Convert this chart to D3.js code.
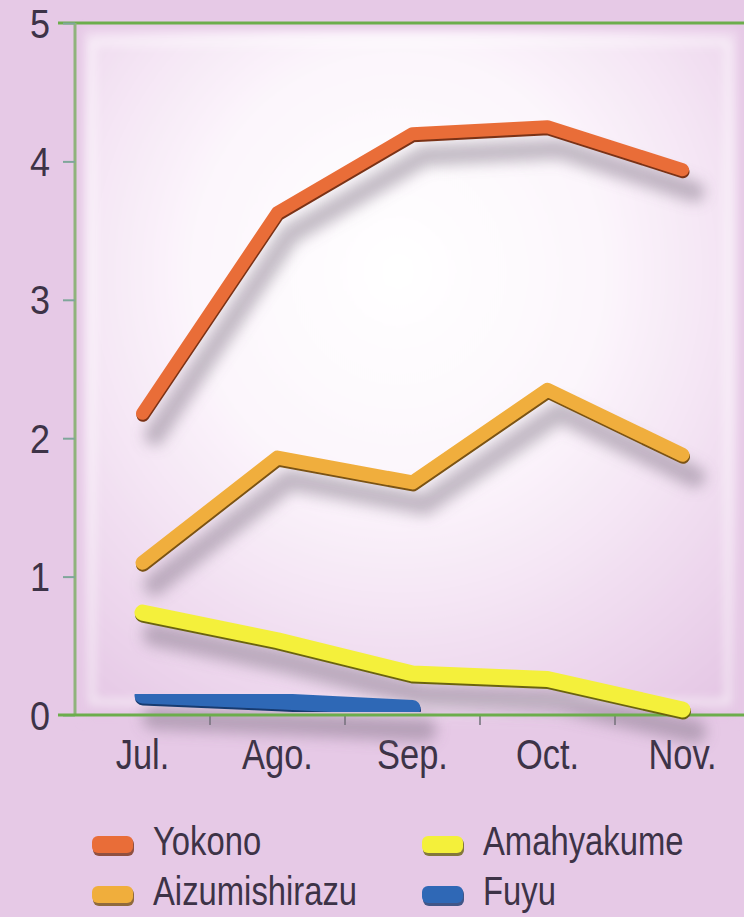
<!DOCTYPE html>
<html>
<head>
<meta charset="utf-8">
<script src="https://cdn.jsdelivr.net/npm/d3@7/dist/d3.min.js"></script>
<style>
  html, body { margin: 0; padding: 0; background: #e6c9e6; }
  svg { display: block; }
  text { font-family: "Liberation Sans", Arial, sans-serif; fill: #3d3347; }
</style>
</head>
<body>
<svg id="chart" width="744" height="917"></svg>
<script>
// Monthly values per variety
const months = ["Jul.", "Ago.", "Sep.", "Oct.", "Nov."];
const yokono        = [2.18, 3.63, 4.20, 4.25, 3.94];
const aizumishirazu = [1.10, 1.86, 1.68, 2.35, 1.88];
const amahyakume    = [0.74, 0.54, 0.30, 0.26, 0.04];
const fuyu          = [0.14, 0.10, 0.05, null, null];
const yTicks = [0, 1, 2, 3, 4, 5];

const seriesNames  = ["Yokono", "Aizumishirazu", "Amahyakume", "Fuyu"];
const seriesValues = [yokono, aizumishirazu, amahyakume, fuyu];
const seriesColors = ["#e96d38", "#f0ae3c", "#f4f03a", "#2f68b6"];
const seriesEdges  = ["#7a3216", "#7a5212", "#6a6410", "#183a70"];
const seriesWidths = [13, 14, 16, 16];

// condensed lettering: horizontal squeeze applied to every label
const SQ = 0.82;

const svg = d3.select("#chart");
const W = 744, H = 917;

const x = d3.scaleBand().domain(months).range([75, 750]);
const y = d3.scaleLinear().domain([0, 5]).range([715, 23]);

const defs = svg.append("defs");

const panelGrad = defs.append("radialGradient")
  .attr("id", "panelGrad").attr("cx", "48%").attr("cy", "35%").attr("r", "78%");
panelGrad.append("stop").attr("offset", "0%").attr("stop-color", "#ffffff");
panelGrad.append("stop").attr("offset", "40%").attr("stop-color", "#fcf6fc");
panelGrad.append("stop").attr("offset", "72%").attr("stop-color", "#f1def1");
panelGrad.append("stop").attr("offset", "100%").attr("stop-color", "#e5c8e5");

defs.append("filter").attr("id", "soft").attr("x", "-10%").attr("y", "-10%").attr("width", "120%").attr("height", "120%")
  .append("feGaussianBlur").attr("stdDeviation", 5);

defs.append("filter").attr("id", "shadow").attr("x", "-20%").attr("y", "-20%").attr("width", "140%").attr("height", "140%")
  .append("feGaussianBlur").attr("stdDeviation", 7);

defs.append("filter").attr("id", "tiny").append("feGaussianBlur").attr("stdDeviation", 0.6);

// backdrop
svg.append("rect").attr("width", W).attr("height", H).attr("fill", "#e6c9e6");

// lighter plotting panel
svg.append("rect")
  .attr("x", 84).attr("y", 30).attr("width", 654).attr("height", 690)
  .attr("fill", "url(#panelGrad)").attr("filter", "url(#soft)");
svg.append("rect")
  .attr("x", 92).attr("y", 42).attr("width", 636).attr("height", 660)
  .attr("fill", "none").attr("stroke", "#ffffff").attr("stroke-opacity", 0.6)
  .attr("stroke-width", 6).attr("filter", "url(#soft)");
svg.append("line")
  .attr("x1", 724).attr("x2", 724).attr("y1", 26).attr("y2", 712)
  .attr("stroke", "#d3bcd3").attr("stroke-width", 3).attr("filter", "url(#tiny)");

// axes
const axisColor = "#6cad4c";
svg.append("line")
  .attr("x1", 58).attr("x2", W).attr("y1", y(5)).attr("y2", y(5))
  .attr("stroke", axisColor).attr("stroke-width", 3);
svg.append("line")
  .attr("x1", 75).attr("x2", 75).attr("y1", y(5)).attr("y2", y(0))
  .attr("stroke", "#8fb37c").attr("stroke-width", 3);

const yAxis = d3.axisLeft(y).tickValues(yTicks).tickSize(12).tickFormat(d3.format("d"));
const gy = svg.append("g").attr("transform", "translate(75,0)").call(yAxis);
gy.select(".domain").remove();
gy.selectAll(".tick line").attr("stroke", "#7fa69a").attr("stroke-width", 2);
gy.selectAll(".tick text").attr("font-size", 40).attr("fill", "#3d3347").attr("dy", "0.35em")
  .attr("text-anchor", "end").attr("x", -25 / 0.9).attr("transform", "scale(0.9,1)");

const xAxis = d3.axisBottom(x).tickSize(0).tickPadding(24);
const gx = svg.append("g").attr("transform", `translate(0,${y(0)})`).call(xAxis);
gx.select(".domain").remove();
gx.selectAll(".tick text").attr("font-size", 42).attr("fill", "#3d3347").attr("dy", "0.71em")
  .attr("transform", `scale(${SQ},1)`);

// small ticks at the boundaries between months
const bounds = months.slice(1).map(m => x(m));
svg.append("g").selectAll("line").data(bounds).join("line")
  .attr("x1", d => d).attr("x2", d => d)
  .attr("y1", y(0)).attr("y2", y(0) + 10)
  .attr("stroke", "#8e8894").attr("stroke-width", 2);

// series lines
const line = d3.line()
  .defined(d => d != null)
  .x((d, i) => x(months[i]) + x.bandwidth() / 2)
  .y(d => y(d));

const shadows = svg.append("g").attr("filter", "url(#shadow)");
seriesValues.forEach((vals, k) => {
  shadows.append("path")
    .attr("d", line(vals))
    .attr("transform", "translate(12,22)")
    .attr("fill", "none").attr("stroke", "#7d6f80").attr("stroke-opacity", 0.45)
    .attr("stroke-width", seriesWidths[k] + 8)
    .attr("stroke-linecap", "round").attr("stroke-linejoin", "round");
});

// zero line drawn above the shadows
svg.append("line")
  .attr("x1", 58).attr("x2", W).attr("y1", y(0)).attr("y2", y(0))
  .attr("stroke", axisColor).attr("stroke-width", 3);

seriesValues.forEach((vals, k) => {
  const g = svg.append("g").attr("filter", "url(#tiny)");
  g.append("path")
    .attr("d", line(vals))
    .attr("transform", "translate(0.5,2)")
    .attr("fill", "none").attr("stroke", seriesEdges[k])
    .attr("stroke-width", seriesWidths[k])
    .attr("stroke-linecap", "round").attr("stroke-linejoin", "round");
  g.append("path")
    .attr("d", line(vals))
    .attr("fill", "none").attr("stroke", seriesColors[k])
    .attr("stroke-width", seriesWidths[k])
    .attr("stroke-linecap", "round").attr("stroke-linejoin", "round");
});

// legend
const legendPos = [[92, 836], [92, 886], [422, 836], [422, 886]];
const legend = svg.append("g");
seriesNames.forEach((name, k) => {
  const [lx, ly] = legendPos[k];
  const item = legend.append("g").attr("transform", `translate(${lx},${ly})`);
  item.append("rect").attr("x", 1).attr("y", 2).attr("width", 41).attr("height", 18).attr("rx", 6)
    .attr("fill", seriesEdges[k]).attr("opacity", 0.8);
  item.append("rect").attr("x", 0).attr("y", 0).attr("width", 41).attr("height", 17).attr("rx", 6)
    .attr("fill", seriesColors[k]);
  item.append("text").attr("transform", `translate(61,19) scale(${SQ},1)`)
    .attr("font-size", 40).text(name);
});
</script>
</body>
</html>
